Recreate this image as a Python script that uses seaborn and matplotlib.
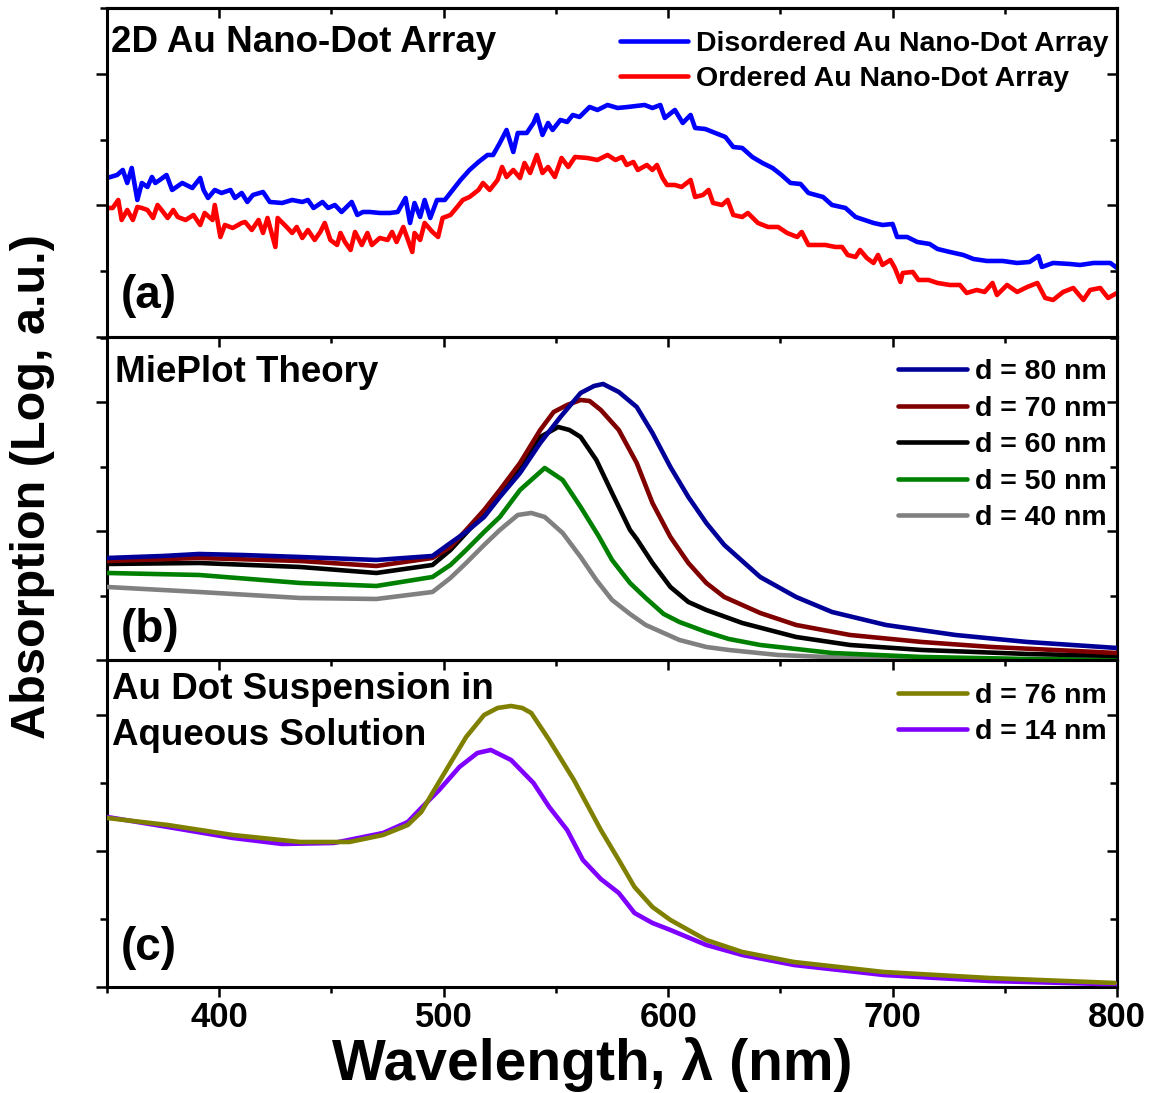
import matplotlib
matplotlib.use("Agg")
import matplotlib.pyplot as plt
from matplotlib.ticker import MultipleLocator
import seaborn as sns

# ---------------- (a) measured 2D Au nano-dot arrays ----------------
wave_disordered = [
    350, 354.5, 357, 359, 361, 363.5, 365.5, 368, 370, 371.5,
    373.5, 376.5, 379, 383.5, 388, 391.5, 393, 395, 398, 401,
    405, 407, 410, 412.5, 415, 419.5, 422.5, 428, 432.5, 437,
    439.5, 442, 446, 448.5, 451.5, 454.5, 459, 461.5, 464, 467,
    471.5, 476, 479.5, 483, 485, 487, 489.5, 491.5, 494, 497,
    500.5, 504, 507.5, 511.5, 515.5, 519.5, 522, 525, 528, 531,
    533, 537, 540, 541.5, 544, 546.5, 548.5, 552, 555, 557.5,
    560.5, 565, 568.5, 573, 577.5, 582, 589.5, 593, 596.5, 598.5,
    603, 606.5, 610, 612, 616.5, 621, 625.5, 629, 633, 637.5,
    642, 646.5, 650.5, 654.5, 659, 662.5, 669, 673, 679, 683.5,
    687.5, 691.5, 695.5, 700, 702, 706.5, 711, 716.5, 720, 725.5,
    731.5, 736, 742, 749, 755.5, 761, 765, 766.5, 771.5, 779,
    783.5, 789.5, 797, 800,
]
abs_disordered = [
    159, 162, 167, 154, 169, 137, 154, 150, 160, 154,
    157, 162, 147, 154, 149, 159, 147, 139, 147, 144,
    147, 139, 144, 135, 142, 145, 135, 134, 137, 135,
    137, 129, 135, 129, 132, 125, 135, 122, 125, 125,
    124, 124, 125, 139, 114, 134, 120, 137, 119, 137,
    137, 147, 157, 167, 175, 182, 182, 194, 207, 185,
    204, 204, 214, 222, 202, 214, 207, 217, 215, 222,
    220, 230, 227, 232, 229, 230, 232, 229, 232, 219,
    227, 214, 222, 209, 208, 204, 200, 190, 189, 180,
    174, 169, 162, 154, 153, 144, 140, 132, 129, 120,
    117, 114, 112, 113, 100, 100, 95, 93, 88, 85,
    82, 78, 76, 76, 74, 75, 81, 70, 74, 73,
    72, 74, 74, 69,
]

wave_ordered = [
    350, 352.5, 355, 356.5, 359, 361.5, 363.5, 365.5, 368, 370.5,
    372.5, 375, 377, 379.5, 381.5, 385, 388.5, 391.5, 393.5, 397,
    398, 400.5, 402.5, 406, 410, 411.5, 414.5, 417.5, 419.5, 421.5,
    425, 426, 430, 432.5, 434.5, 437, 439.5, 442.5, 445, 447,
    449.5, 452.5, 454, 456, 458.5, 460.5, 463.5, 466, 468, 471.5,
    475, 477, 479, 482, 486, 487, 489.5, 491.5, 495, 497.5,
    499.5, 503, 506, 508.5, 511.5, 515.5, 517.5, 520.5, 524, 526,
    528, 531, 534, 536, 538.5, 541.5, 544, 546.5, 549.5, 552.5,
    555.5, 558.5, 564, 568.5, 573, 576.5, 579.5, 581.5, 584.5, 586.5,
    590.5, 593, 595, 597.5, 599.5, 603, 606, 610, 612, 615.5,
    618, 620, 624, 626.5, 629, 633, 635.5, 640, 644.5, 649,
    653, 657.5, 659.5, 662.5, 665.5, 670, 674.5, 677.5, 680, 683.5,
    685.5, 688.5, 691.5, 693.5, 695.5, 699, 701, 703.5, 704.5, 709,
    711.5, 716, 720, 725.5, 730, 733, 737.5, 741, 744.5, 746.5,
    751, 755.5, 760, 764.5, 768, 771.5, 776, 780.5, 785, 788,
    792.5, 796, 800,
]
abs_ordered = [
    129, 129, 137, 117, 127, 117, 130, 129, 127, 119,
    132, 125, 119, 127, 120, 117, 122, 112, 124, 117,
    132, 100, 112, 109, 114, 115, 107, 117, 104, 119,
    90, 119, 110, 104, 110, 99, 107, 97, 105, 114,
    97, 92, 104, 95, 87, 105, 92, 104, 92, 99,
    97, 105, 95, 110, 85, 104, 97, 114, 105, 100,
    119, 122, 130, 137, 140, 147, 154, 147, 157, 170,
    160, 167, 159, 174, 164, 182, 164, 170, 160, 179,
    170, 180, 179, 177, 182, 177, 180, 172, 175, 167,
    172, 167, 172, 159, 152, 152, 150, 157, 140, 142,
    147, 134, 132, 137, 122, 120, 124, 114, 110, 110,
    104, 100, 105, 92, 92, 92, 90, 90, 82, 80,
    87, 79, 74, 82, 72, 77, 69, 55, 64, 65,
    57, 57, 54, 52, 52, 44, 47, 45, 54, 42,
    52, 45, 50, 54, 39, 37, 45, 49, 37, 47,
    49, 39, 44,
]

# ---------------- (b) MiePlot theory ----------------
wave_d80 = [350, 375, 391, 410, 436, 470, 495, 503, 510, 518, 525, 534, 543, 552, 561,
            567, 571, 578, 586, 593, 601, 609, 617, 625, 641, 657, 673, 697, 728, 760, 800]
abs_d80 = [102, 104, 106, 105, 103, 100, 104, 117, 128, 143, 163, 187, 217, 243, 267,
           274, 276, 268, 253, 227, 193, 163, 137, 115, 83, 63, 48, 35, 25, 18, 12]

wave_d70 = [350, 391, 436, 470, 495, 503, 510, 518, 525, 534, 543, 549, 555, 561, 565,
            570, 578, 586, 593, 601, 609, 617, 625, 641, 657, 681, 713, 744, 800]
abs_d70 = [99, 102, 99, 94, 102, 113, 130, 150, 170, 197, 230, 248, 255, 260, 259,
           250, 230, 197, 157, 123, 97, 77, 63, 47, 35, 25, 18, 13, 7]

wave_d60 = [350, 391, 436, 470, 495, 503, 510, 518, 525, 534, 543, 551, 556, 561, 568,
            575, 583, 586, 593, 601, 609, 617, 633, 657, 681, 713, 760, 800]
abs_d60 = [96, 97, 93, 87, 95, 110, 127, 147, 167, 193, 223, 233, 230, 223, 200,
           167, 130, 121, 97, 73, 58, 50, 37, 23, 15, 10, 6, 4]

wave_d50 = [350, 391, 436, 470, 495, 503, 510, 518, 525, 534, 545, 553, 561, 569, 575,
            583, 590, 598, 605, 617, 627, 641, 673, 713, 760, 800]
abs_d50 = [87, 85, 77, 74, 83, 95, 110, 128, 143, 170, 192, 180, 153, 124, 100,
           77, 62, 46, 38, 28, 21, 15, 7, 3, 1, 0]

wave_d40 = [350, 391, 436, 470, 495, 503, 510, 518, 525, 533, 539, 545, 553, 561, 568,
            575, 583, 590, 598, 605, 617, 627, 649, 681, 720, 800]
abs_d40 = [73, 68, 62, 61, 68, 82, 97, 115, 130, 145, 147, 143, 127, 103, 80,
           60, 46, 35, 27, 20, 13, 10, 5, 2, 1, 0]

# ---------------- (c) Au dots suspended in water ----------------
wave_d76 = [350, 377, 406, 436, 458, 473, 484, 490, 495, 503, 510, 518, 524, 530, 535,
            539, 547, 558, 570, 578, 585, 593, 601, 617, 633, 656, 696, 743, 799]
abs_d76 = [169, 162, 152, 145, 145, 152, 162, 175, 194, 224, 250, 272, 279, 281, 279,
           274, 247, 207, 157, 127, 100, 80, 67, 47, 35, 25, 15, 9, 4]

wave_d14 = [350, 377, 406, 428, 451, 473, 484, 490, 498, 507, 515, 521, 530, 540, 547,
            555, 562, 570, 578, 585, 593, 601, 617, 633, 656, 696, 743, 793, 800]
abs_d14 = [170, 160, 149, 143, 144, 154, 165, 179, 197, 220, 234, 237, 227, 204, 180,
           157, 127, 108, 94, 74, 64, 57, 42, 32, 22, 12, 6, 3, 3]

sns.set_theme(style="ticks")
plt.rcParams["font.family"] = ["Liberation Sans", "DejaVu Sans"]
plt.rcParams["font.weight"] = "bold"
plt.rcParams["text.color"] = "black"
plt.rcParams["axes.labelcolor"] = "black"
plt.rcParams["xtick.color"] = "black"
plt.rcParams["ytick.color"] = "black"
plt.rcParams["axes.linewidth"] = 2.2
plt.rcParams["axes.edgecolor"] = "black"

fig = plt.figure(figsize=(11.56, 10.93), dpi=100, facecolor="white")
gs = fig.add_gridspec(3, 1, height_ratios=[329, 323, 327], hspace=0,
                      left=0.0926, right=0.9663, top=0.9927, bottom=0.0970)
ax_a, ax_b, ax_c = [fig.add_subplot(gs[i]) for i in range(3)]

LW = 3.3

# (a)
sns.lineplot(x=wave_disordered, y=abs_disordered, ax=ax_a, color="#0000FF",
             linewidth=LW, label="Disordered Au Nano-Dot Array")
sns.lineplot(x=wave_ordered, y=abs_ordered, ax=ax_a, color="#FF0000",
             linewidth=LW, label="Ordered Au Nano-Dot Array")

# (b)
mie = [
    (wave_d80, abs_d80, "#000099", "d = 80 nm"),
    (wave_d70, abs_d70, "#800000", "d = 70 nm"),
    (wave_d60, abs_d60, "#000000", "d = 60 nm"),
    (wave_d50, abs_d50, "#008000", "d = 50 nm"),
    (wave_d40, abs_d40, "#808080", "d = 40 nm"),
]
for i, (w, a, c, lab) in enumerate(mie):
    sns.lineplot(x=w, y=a, ax=ax_b, color=c, linewidth=LW, label=lab, zorder=10 - i)

# (c)
sns.lineplot(x=wave_d76, y=abs_d76, ax=ax_c, color="#808000", linewidth=LW,
             label="d = 76 nm", zorder=10)
sns.lineplot(x=wave_d14, y=abs_d14, ax=ax_c, color="#8000FF", linewidth=LW,
             label="d = 14 nm", zorder=9)

# y ranges (arbitrary units) and tick spacing per panel
y_setup = {ax_a: (329, 65.8), ax_b: (323, 64.4), ax_c: (327, 68.0)}

for ax in (ax_a, ax_b, ax_c):
    ax.set_facecolor("none")
    ax.set_xlim(350, 800)
    top, unit = y_setup[ax]
    ax.set_ylim(0, top)
    ax.set_xlabel("")
    ax.set_ylabel("")
    ax.xaxis.set_major_locator(MultipleLocator(100))
    ax.xaxis.set_minor_locator(MultipleLocator(50))
    ax.yaxis.set_major_locator(MultipleLocator(2 * unit))
    ax.yaxis.set_minor_locator(MultipleLocator(unit))
    ax.tick_params(axis="x", which="both", direction="out", bottom=True, top=False,
                   labelbottom=False, width=1.8, color="black")
    ax.tick_params(axis="x", which="major", length=7)
    ax.tick_params(axis="x", which="minor", length=4)
    ax.tick_params(axis="y", which="both", direction="out", left=True, right=False,
                   labelleft=False, width=1.8, color="black")
    ax.tick_params(axis="y", which="major", length=8)
    ax.tick_params(axis="y", which="minor", length=5)
    for s in ax.spines.values():
        s.set_visible(True)
        s.set_linewidth(2.2)
        s.set_color("black")

    sec = ax.secondary_yaxis("right")
    sec.yaxis.set_major_locator(MultipleLocator(2 * unit))
    sec.yaxis.set_minor_locator(MultipleLocator(unit))
    sec.tick_params(axis="y", which="both", direction="in", labelright=False,
                    width=1.8, color="black")
    sec.tick_params(axis="y", which="major", length=7)
    sec.tick_params(axis="y", which="minor", length=5)
    sec.spines["right"].set_linewidth(2.2)

top_ax = ax_a.secondary_xaxis("top")
top_ax.xaxis.set_major_locator(MultipleLocator(100))
top_ax.xaxis.set_minor_locator(MultipleLocator(50))
top_ax.tick_params(axis="x", which="both", direction="in", labeltop=False,
                   width=1.8, color="black")
top_ax.tick_params(axis="x", which="major", length=7)
top_ax.tick_params(axis="x", which="minor", length=4)
top_ax.spines["top"].set_linewidth(2.2)

ax_c.tick_params(axis="x", which="major", labelbottom=True, labelsize=25, pad=3)

# Legends
leg_kw = dict(frameon=False, fontsize=20.5, borderpad=0, borderaxespad=0,
              handlelength=2.4, handletextpad=0.3, loc="upper right")
ax_a.legend(bbox_to_anchor=(0.992, 0.930), labelspacing=0.33, **leg_kw)
ax_b.legend(bbox_to_anchor=(0.990, 0.931), labelspacing=0.37, **leg_kw)
ax_c.legend(bbox_to_anchor=(0.990, 0.929), labelspacing=0.35, **leg_kw)

# Panel annotations
title_fs = 26.5
ax_a.text(0.004, 0.866, "2D Au Nano-Dot Array", transform=ax_a.transAxes,
          fontsize=title_fs, ha="left", va="baseline")
ax_a.text(0.014, 0.088, "(a)", transform=ax_a.transAxes, fontsize=33,
          ha="left", va="baseline")
ax_b.text(0.008, 0.861, "MiePlot Theory", transform=ax_b.transAxes,
          fontsize=title_fs, ha="left", va="baseline")
ax_b.text(0.014, 0.056, "(b)", transform=ax_b.transAxes, fontsize=33,
          ha="left", va="baseline")
ax_c.text(0.005, 0.881, "Au Dot Suspension in", transform=ax_c.transAxes,
          fontsize=title_fs, ha="left", va="baseline")
ax_c.text(0.005, 0.740, "Aqueous Solution", transform=ax_c.transAxes,
          fontsize=title_fs, ha="left", va="baseline")
ax_c.text(0.014, 0.083, "(c)", transform=ax_c.transAxes, fontsize=33,
          ha="left", va="baseline")

fig.text(0.5125, 0.0119, "Wavelength, λ (nm)", fontsize=41, ha="center",
         va="baseline")
fig.text(0.0285, 0.555, "Absorption (Log, a.u.)", fontsize=35, rotation=90,
         ha="center", va="center")

fig.savefig("out.png", dpi=100, facecolor="white")
